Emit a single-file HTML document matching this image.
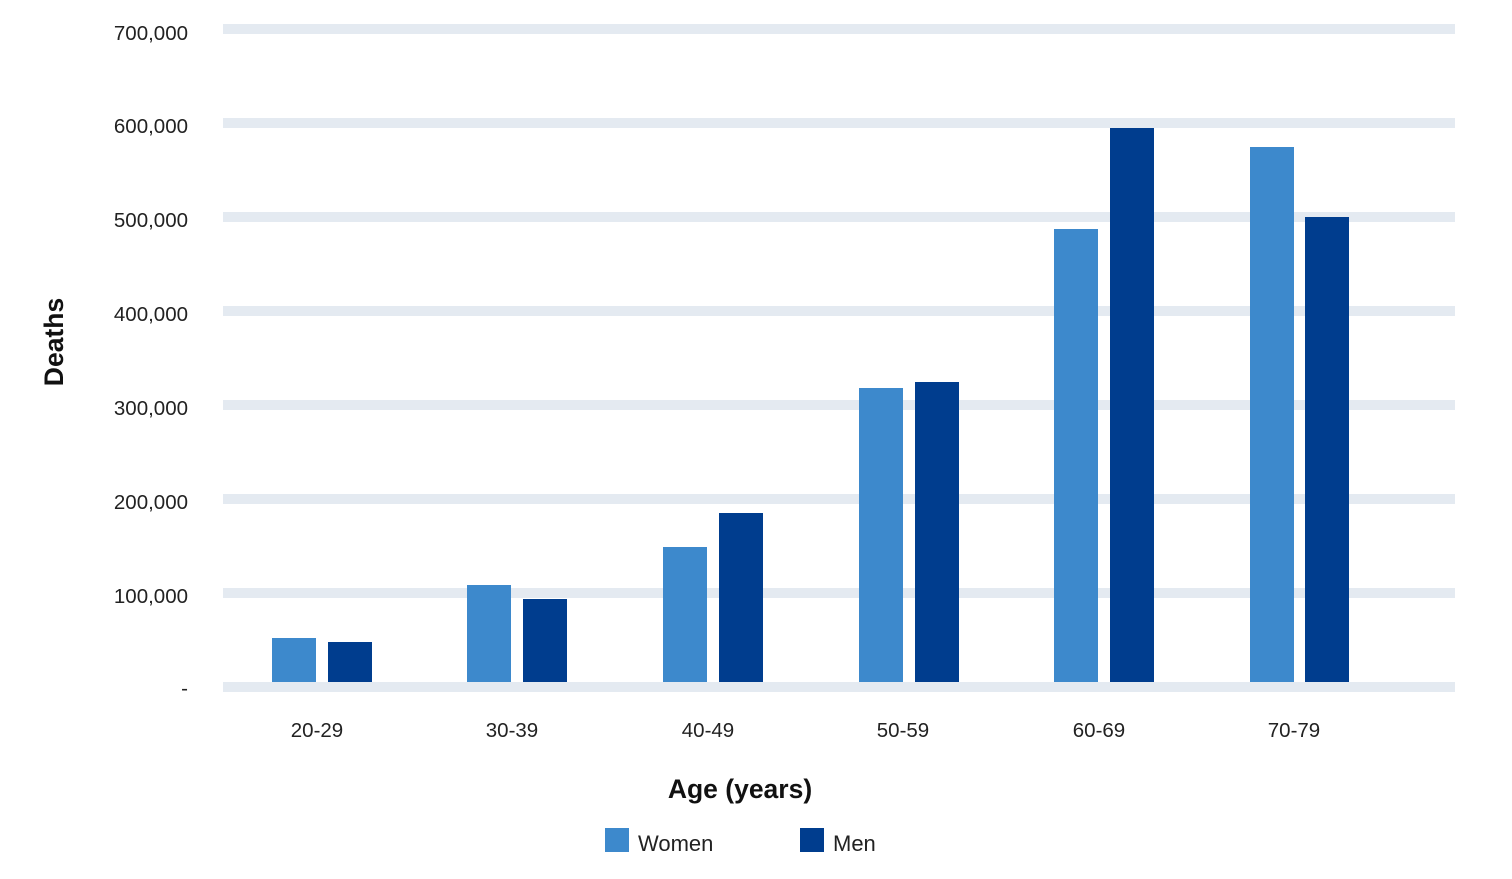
<!DOCTYPE html>
<html><head><style>
body{margin:0;background:#fff;width:1512px;height:879px;overflow:hidden;font-family:"Liberation Sans","DejaVu Sans",sans-serif;color:#222}
</style></head><body>
<svg width="1512" height="879" xmlns="http://www.w3.org/2000/svg" style="position:absolute;left:0;top:0">
<g fill="#e4eaf1">
<rect x="223" y="24" width="1232" height="10"/>
<rect x="223" y="118" width="1232" height="10"/>
<rect x="223" y="212" width="1232" height="10"/>
<rect x="223" y="306" width="1232" height="10"/>
<rect x="223" y="400" width="1232" height="10"/>
<rect x="223" y="494" width="1232" height="10"/>
<rect x="223" y="588" width="1232" height="10"/>
<rect x="223" y="682" width="1232" height="10"/>
</g>
<g font-size="20.5" text-anchor="end" fill="#222">
<text x="188" y="40">700,000</text>
<text x="188" y="133">600,000</text>
<text x="188" y="227">500,000</text>
<text x="188" y="321">400,000</text>
<text x="188" y="415">300,000</text>
<text x="188" y="509">200,000</text>
<text x="188" y="603">100,000</text>
<text x="188" y="695">-</text>
</g>
<g fill="#3d89cc">
<rect x="272" y="638" width="44" height="44"/>
<rect x="467" y="585" width="44" height="97"/>
<rect x="663" y="547" width="44" height="135"/>
<rect x="859" y="388" width="44" height="294"/>
<rect x="1054" y="229" width="44" height="453"/>
<rect x="1250" y="147" width="44" height="535"/>
</g>
<g fill="#003d8e">
<rect x="328" y="642" width="44" height="40"/>
<rect x="523" y="599" width="44" height="83"/>
<rect x="719" y="513" width="44" height="169"/>
<rect x="915" y="382" width="44" height="300"/>
<rect x="1110" y="128" width="44" height="554"/>
<rect x="1305" y="217" width="44" height="465"/>
</g>
<g font-size="20.5" text-anchor="middle" fill="#222">
<text x="317" y="737">20-29</text>
<text x="512" y="737">30-39</text>
<text x="708" y="737">40-49</text>
<text x="903" y="737">50-59</text>
<text x="1099" y="737">60-69</text>
<text x="1294" y="737">70-79</text>
</g>
<text x="740" y="798" font-size="26.5" font-weight="bold" text-anchor="middle" fill="#111">Age (years)</text>
<text transform="translate(63,342) rotate(-90)" font-size="26.5" font-weight="bold" text-anchor="middle" fill="#111">Deaths</text>
<rect x="605" y="828" width="24" height="24" fill="#3d89cc"/>
<text x="638" y="851" font-size="22" fill="#222">Women</text>
<rect x="800" y="828" width="24" height="24" fill="#003d8e"/>
<text x="833" y="851" font-size="22" fill="#222">Men</text>
</svg>
</body></html>
